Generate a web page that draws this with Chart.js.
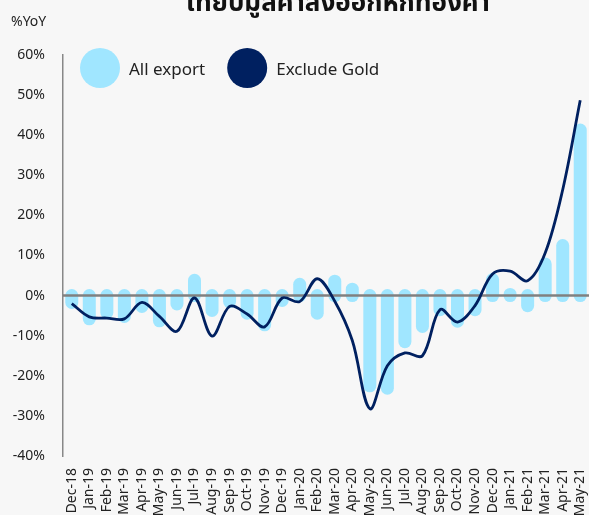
<!DOCTYPE html>
<html>
<head>
<meta charset="utf-8">
<title>Export growth</title>
<script src="https://cdn.jsdelivr.net/npm/chart.js@4"></script>
<style>
	html, body { margin: 0; padding: 0; background: #f7f7f7; overflow: hidden; }
	canvas { display: block; }
</style>
</head>
<body>
<canvas id="exportChart" width="589" height="515"></canvas>
<script>
"use strict";

var months = ["Dec-18", "Jan-19", "Feb-19", "Mar-19", "Apr-19", "May-19", "Jun-19", "Jul-19", "Aug-19", "Sep-19",
	"Oct-19", "Nov-19", "Dec-19", "Jan-20", "Feb-20", "Mar-20", "Apr-20", "May-20", "Jun-20", "Jul-20",
	"Aug-20", "Sep-20", "Oct-20", "Nov-20", "Dec-20", "Jan-21", "Feb-21", "Mar-21", "Apr-21", "May-21"];

// %YoY
var allExport = [-1.7, -5.8, -4.2, -5.2, -2.7, -6.3, -2.1, 3.8, -3.7, -1.5,
	-4.4, -7.3, -1.2, 2.8, -4.4, 3.6, 1.6, -22.5, -23.1, -11.5,
	-7.7, -3.5, -6.4, -3.5, 4.0, 0.3, -2.5, 7.9, 12.5, 41.3];

var excludeGold = [-2.0, -5.3, -5.6, -5.8, -1.7, -5.2, -8.9, -0.6, -10.1, -2.7,
	-4.6, -7.8, -0.6, -1.5, 4.2, -1.4, -11.2, -28.2, -17.5, -14.3,
	-15.0, -3.5, -6.6, -2.5, 5.4, 6.1, 3.7, 10.6, 26.4, 48.7];

var yMin = -40, yMax = 60, yStep = 10;

var lightBlue = "#a0e6ff";
var navy = "#002060";
var fontFamily = "'Noto Sans', 'Noto Sans Thai', 'Loma', 'Garuda', sans-serif";

// bars drawn as thick round-capped strokes, zero line on top of them
var roundBars = {
	id: "roundBars",
	beforeDatasetDraw: function (chart, args) {
		if (args.index !== 0) return;
		var ctx = chart.ctx;
		ctx.save();
		ctx.strokeStyle = lightBlue;
		ctx.lineWidth = 13;
		ctx.lineCap = "round";
		args.meta.data.forEach(function (bar) {
			ctx.beginPath();
			ctx.moveTo(bar.x, bar.base);
			ctx.lineTo(bar.x, bar.y);
			ctx.stroke();
		});
		var y0 = chart.scales.y.getPixelForValue(0);
		ctx.strokeStyle = "#808080";
		ctx.lineWidth = 2.5;
		ctx.lineCap = "butt";
		ctx.beginPath();
		ctx.moveTo(chart.chartArea.left, y0);
		ctx.lineTo(chart.chartArea.right, y0);
		ctx.stroke();
		ctx.restore();
		return false;
	}
};

// title, unit label and the round legend inside the plot
var headings = {
	id: "headings",
	afterDraw: function (chart) {
		var ctx = chart.ctx;
		var area = chart.chartArea;
		ctx.save();
		ctx.fillStyle = "#111";
		ctx.textAlign = "center";
		ctx.textBaseline = "alphabetic";
		ctx.font = "bold 26px " + fontFamily;
		ctx.fillText("เทียบมูลค่าส่งออกหักทองคำ", 338, 11);

		ctx.fillStyle = "#222";
		ctx.textAlign = "left";
		ctx.textBaseline = "middle";
		ctx.font = "14px " + fontFamily;
		ctx.fillText("%YoY", 11, 22);

		var x = area.left + 17;
		var y = area.top + 13;
		ctx.font = "17px " + fontFamily;
		chart.data.datasets.forEach(function (ds) {
			ctx.fillStyle = ds.backgroundColor;
			ctx.beginPath();
			ctx.arc(x + 20, y, 20, 0, Math.PI * 2);
			ctx.fill();
			ctx.fillStyle = "#222";
			ctx.fillText(ds.label, x + 49, y + 2);
			x += 49 + ctx.measureText(ds.label).width + 22;
		});
		ctx.restore();
	}
};

var ctx = document.getElementById("exportChart");
var exportChart = new Chart(ctx, {
	type: "bar",
	data: {
		labels: months,
		datasets: [{
			label: "All export",
			data: allExport,
			backgroundColor: lightBlue,
			order: 1
		}, {
			type: "line",
			label: "Exclude Gold",
			data: excludeGold,
			borderColor: navy,
			backgroundColor: navy,
			borderWidth: 2.8,
			pointRadius: 0,
			tension: 0.35,
			fill: false,
			order: 0
		}]
	},
	options: {
		responsive: false,
		animation: false,
		layout: { padding: { top: 55, right: 0, bottom: 0, left: 0 } },
		plugins: {
			tooltip: { enabled: false },
			legend: { display: false }
		},
		scales: {
			x: {
				offset: true,
				grid: { display: false, drawTicks: false },
				border: { display: false },
				ticks: {
					autoSkip: false,
					minRotation: 90,
					maxRotation: 90,
					padding: 12,
					color: "#222",
					font: { family: fontFamily, size: 14 }
				},
				afterFit: function (scale) {
					scale.height = 59;
					scale.paddingLeft = 0;
					scale.paddingRight = 0;
				}
			},
			y: {
				min: yMin,
				max: yMax,
				grid: { display: false, drawTicks: false },
				border: { display: true, color: "#888", width: 1.5 },
				ticks: {
					stepSize: yStep,
					padding: 18,
					color: "#222",
					font: { family: fontFamily, size: 14 },
					callback: function (v) { return v + "%"; }
				},
				afterFit: function (scale) {
					scale.width = 63;
					scale.paddingTop = 0;
					scale.paddingBottom = 0;
				}
			}
		}
	},
	plugins: [roundBars, headings]
});
</script>
</body>
</html>
